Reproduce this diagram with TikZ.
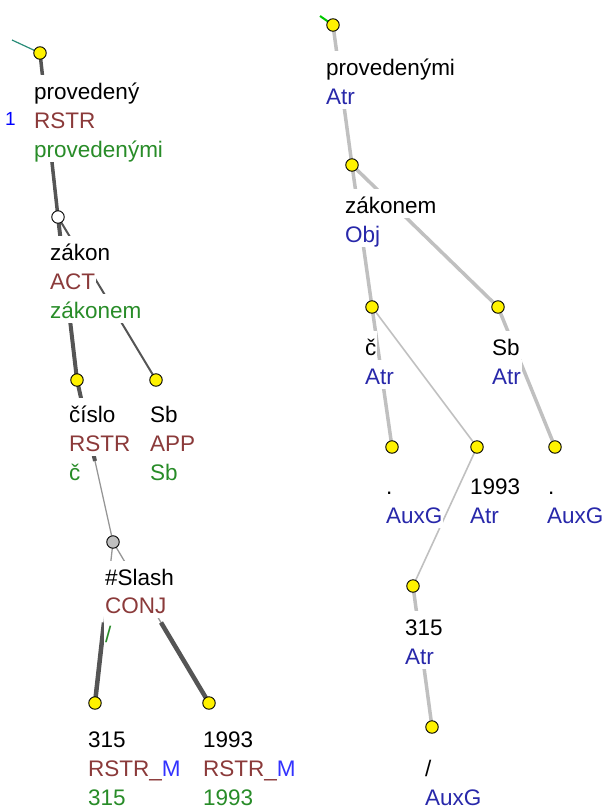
\documentclass[tikz,border=0pt]{standalone}
\usepackage{fontspec}
\setmainfont{Liberation Sans}
\usetikzlibrary{calc}
\definecolor{tbrown}{RGB}{139,58,58}
\definecolor{tgreen}{RGB}{40,140,40}
\definecolor{tblue}{RGB}{40,40,170}
\definecolor{mblue}{RGB}{50,50,255}
\definecolor{darkedge}{RGB}{85,85,85}
\definecolor{greyedge}{RGB}{150,150,150}
\definecolor{lightedge}{RGB}{192,192,192}
\definecolor{rootteal}{RGB}{40,140,120}
\definecolor{rootgreen}{RGB}{0,200,0}
\tikzset{
  lbl/.style={anchor=base west, fill=white, inner xsep=1pt, inner ysep=0pt,
    text height=24pt, text depth=5pt, font=\fontsize{22.5}{27}\selectfont},
  dot/.style={circle, draw=black, line width=0.9pt, fill=yellow, inner sep=0pt, minimum size=12.5pt},
  thickdark/.style={draw=darkedge, line width=4pt},
  middark/.style={draw=darkedge, line width=2pt},
  thingrey/.style={draw=greyedge, line width=1.3pt},
  thicklight/.style={draw=lightedge, line width=3.5pt},
  thinlight/.style={draw=lightedge, line width=1.6pt},
}
\begin{document}
\begin{tikzpicture}[x=1pt,y=-1pt]
\useasboundingbox (0,0) rectangle (615,809);
% ---------- left tree node positions ----------
\coordinate (cprov) at (40,53);
\coordinate (czak) at (58,217);
\coordinate (ccis) at (77,380);
\coordinate (csbl) at (156,380);
\coordinate (cslash) at (113,542);
\coordinate (c315) at (95,703);
\coordinate (c1993) at (209,703);
\coordinate (lroot) at (12,40);
% ---------- right tree node positions ----------
\coordinate (rprov) at (333,25);
\coordinate (rzak) at (352,165);
\coordinate (rc) at (372,307);
\coordinate (rsb) at (498,307);
\coordinate (rdot1) at (392,447);
\coordinate (r1993) at (477,447);
\coordinate (rdot2) at (555,447);
\coordinate (r315) at (413,586);
\coordinate (rsl) at (432,727);
\coordinate (rroot) at (320,16);
% midpoints for split edges
\coordinate (m1) at ($(ccis)!0.5!(cslash)$);
\coordinate (m2) at ($(cslash)!0.5!(c315)$);
\coordinate (m3) at ($(cslash)!0.5!(c1993)$);
% ---------- left edges ----------
\draw[rootteal, line width=1.2pt] (lroot) -- (cprov);
\draw[draw=darkedge, line width=3.5pt] (cprov) -- (czak);
\draw[thickdark] (czak) -- (ccis);
\draw[middark] (czak) -- (csbl);
\draw[thickdark] (ccis) -- (m1);
\draw[thingrey] (m1) -- (cslash);
\draw[thingrey] (cslash) -- (m2);
\draw[draw=darkedge, line width=4.5pt] (m2) -- (c315);
\draw[thingrey] (cslash) -- (m3);
\draw[draw=darkedge, line width=4.5pt] (m3) -- (c1993);
% ---------- right edges ----------
\draw[rootgreen, line width=2pt] (rroot) -- (rprov);
\draw[thicklight] (rprov) -- (rzak);
\draw[thicklight] (rzak) -- (rc);
\draw[thicklight] (rzak) -- (rsb);
\draw[thicklight] (rc) -- (rdot1);
\draw[thinlight] (rc) -- (r1993);
\draw[thicklight] (rsb) -- (rdot2);
\draw[thinlight] (r1993) -- (r315);
\draw[thicklight] (r315) -- (rsl);
% ---------- left labels ----------
\node[lbl] (t1a) at (33,99) {provedený};
\node[lbl, text=tbrown] (t1b) at (33,128) {RSTR};
\node[lbl, text=tgreen] (t1c) at (33,157) {provedenými};
\node[lbl, text=blue, font=\fontsize{19}{22}\selectfont] (t1d) at (4,125) {1};
\node[lbl] (t2a) at (49,260) {zákon};
\node[lbl, text=tbrown] (t2b) at (49,289) {ACT};
\node[lbl, text=tgreen] (t2c) at (49,318) {zákonem};
\node[lbl] (t3a) at (68,422) {číslo};
\node[lbl, text=tbrown] (t3b) at (68,451) {RSTR};
\node[lbl, text=tgreen] (t3c) at (68,480) {č};
\node[lbl] (t4a) at (149,422) {Sb};
\node[lbl, text=tbrown] (t4b) at (149,451) {APP};
\node[lbl, text=tgreen] (t4c) at (149,480) {Sb};
\node[lbl] (t5a) at (104,585) {\#Slash};
\node[lbl, text=tbrown] (t5b) at (104,613) {CONJ};
\node[lbl, text=tgreen] (t5c) at (104,642) {/};
\node[lbl] (t6a) at (87,747) {315};
\node[lbl, text=tbrown] (t6b) at (87,776) {RSTR\_{\color{mblue}M}};
\node[lbl, text=tgreen] (t6c) at (87,805) {315};
\node[lbl] (t7a) at (202,747) {1993};
\node[lbl, text=tbrown] (t7b) at (202,776) {RSTR\_{\color{mblue}M}};
\node[lbl, text=tgreen] (t7c) at (202,805) {1993};
% ---------- right labels ----------
\node[lbl] (u1a) at (325,75) {provedenými};
\node[lbl, text=tblue] (u1b) at (325,104) {Atr};
\node[lbl] (u2a) at (344,213) {zákonem};
\node[lbl, text=tblue] (u2b) at (344,242) {Obj};
\node[lbl] (u3a) at (364,355) {č};
\node[lbl, text=tblue] (u3b) at (364,384) {Atr};
\node[lbl] (u4a) at (491,355) {Sb};
\node[lbl, text=tblue] (u4b) at (491,384) {Atr};
\node[lbl] (u5a) at (385,494) {.};
\node[lbl, text=tblue] (u5b) at (385,523) {AuxG};
\node[lbl] (u6a) at (469,494) {1993};
\node[lbl, text=tblue] (u6b) at (469,523) {Atr};
\node[lbl] (u7a) at (547,494) {.};
\node[lbl, text=tblue] (u7b) at (546,523) {AuxG};
\node[lbl] (u8a) at (404,635) {315};
\node[lbl, text=tblue] (u8b) at (404,664) {Atr};
\node[lbl] (u9a) at (424,776) {/};
\node[lbl, text=tblue] (u9b) at (424,805) {AuxG};
% ---------- node circles ----------
\node[dot] (nprov) at (cprov) {};
\node[dot, fill=white] (nzak) at (czak) {};
\node[dot] (ncis) at (ccis) {};
\node[dot] (nsbl) at (csbl) {};
\node[dot, fill=lightgray] (nslash) at (cslash) {};
\node[dot] (n315) at (c315) {};
\node[dot] (n1993) at (c1993) {};
\node[dot] (mprov) at (rprov) {};
\node[dot] (mzak) at (rzak) {};
\node[dot] (mc) at (rc) {};
\node[dot] (msb) at (rsb) {};
\node[dot] (mdot1) at (rdot1) {};
\node[dot] (m1993) at (r1993) {};
\node[dot] (mdot2) at (rdot2) {};
\node[dot] (m315) at (r315) {};
\node[dot] (msl) at (rsl) {};
\end{tikzpicture}
\end{document}
